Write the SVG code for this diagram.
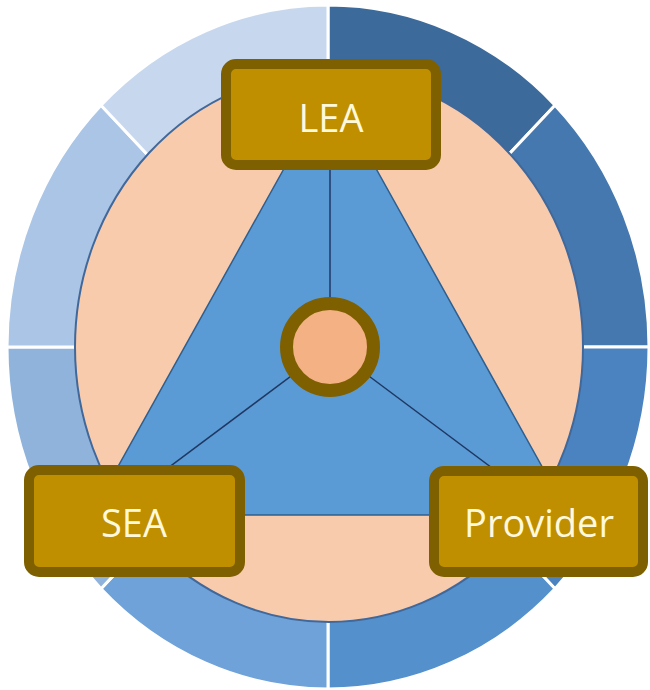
<svg xmlns="http://www.w3.org/2000/svg" width="650" height="690" viewBox="0 0 650 690">
<style>
.seg{stroke:#ffffff;stroke-width:3;stroke-linejoin:round}
.box{fill:#bf8f00;stroke:#7f6000;stroke-width:10}
.lbl{font-family:"Open Sans","Liberation Sans",sans-serif;font-size:38px;fill:#fff9dc;text-anchor:middle}
.conn{stroke:#1f3864;stroke-width:1.5;fill:none}
</style>
<rect width="650" height="690" fill="#ffffff"/>
<g id="ring">
<path class="seg" fill="#3c6a9a" d="M328,347 L328,5 A321,342 0 0 1 555,105.2 Z"/>
<path class="seg" fill="#4578ae" d="M328,347 L555,105.2 A321,342 0 0 1 649,347 Z"/>
<path class="seg" fill="#4a83bf" d="M328,347 L649,347 A321,342 0 0 1 555,588.8 Z"/>
<path class="seg" fill="#5490cc" d="M328,347 L555,588.8 A321,342 0 0 1 328,689 Z"/>
<path class="seg" fill="#6ea2d8" d="M328,347 L328,689 A321,342 0 0 1 101,588.8 Z"/>
<path class="seg" fill="#90b3dc" d="M328,347 L101,588.8 A321,342 0 0 1 7,347 Z"/>
<path class="seg" fill="#aac5e5" d="M328,347 L7,347 A321,342 0 0 1 101,105.2 Z"/>
<path class="seg" fill="#c7d8ee" d="M328,347 L101,105.2 A321,342 0 0 1 328,5 Z"/>
</g>
<g id="inner">
<ellipse cx="329" cy="347" rx="254" ry="275" fill="#f8cbad" stroke="#41689a" stroke-width="2"/>
</g>
<g id="triangle">
<path d="M330,86 L91,515 L569,515 Z" fill="#5b9bd5" stroke="#2f5f8f" stroke-width="1.5"/>
</g>
<g id="connectors">
<line class="conn" x1="330" y1="347" x2="330" y2="165"/>
<line class="conn" x1="330" y1="347" x2="105" y2="515"/>
<line class="conn" x1="330" y1="347" x2="555" y2="515"/>
</g>
<g id="center">
<circle cx="330" cy="347" r="43.5" fill="#f4b183" stroke="#7f6000" stroke-width="13"/>
</g>
<g id="LEA">
<rect class="box" x="226" y="64" width="210" height="101" rx="10"/>
<text class="lbl" x="331" y="132">LEA</text>
</g>
<g id="SEA">
<rect class="box" x="29" y="470" width="211" height="102" rx="10"/>
<text class="lbl" x="134" y="537">SEA</text>
</g>
<g id="Provider">
<rect class="box" x="434" y="471" width="209" height="101" rx="10"/>
<text class="lbl" x="539" y="537">Provider</text>
</g>
</svg>
